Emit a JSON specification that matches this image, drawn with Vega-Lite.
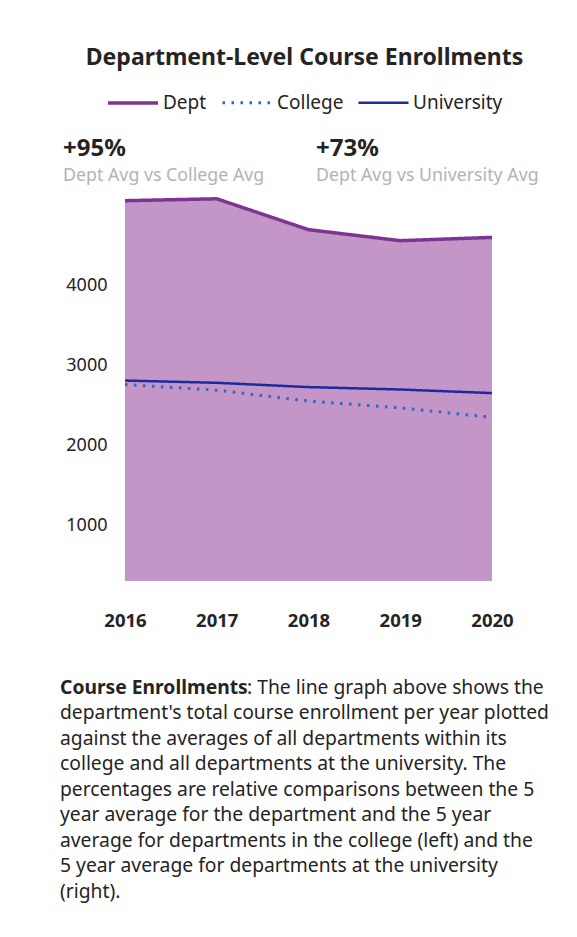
{
  "$schema": "https://vega.github.io/schema/vega-lite/v6.json",
  "background": "white",
  "padding": {"left": 60, "top": 47, "right": 20, "bottom": 10},
  "config": {
    "font": "Noto Sans",
    "view": {"stroke": null},
    "legend": {"layout": {"top": {"anchor": "middle"}}}
  },
  "title": {
    "text": "Department-Level Course Enrollments",
    "fontSize": 23,
    "fontWeight": "bold",
    "color": "#252423",
    "anchor": "middle",
    "offset": 6
  },
  "datasets": {
    "enroll": [
      {"year": 2016, "series": "College", "value": 2762},
      {"year": 2017, "series": "College", "value": 2692},
      {"year": 2018, "series": "College", "value": 2555},
      {"year": 2019, "series": "College", "value": 2470},
      {"year": 2020, "series": "College", "value": 2350},
      {"year": 2016, "series": "University", "value": 2812},
      {"year": 2017, "series": "University", "value": 2784},
      {"year": 2018, "series": "University", "value": 2730},
      {"year": 2019, "series": "University", "value": 2700},
      {"year": 2020, "series": "University", "value": 2655},
      {"year": 2016, "series": "Dept", "value": 5066},
      {"year": 2017, "series": "Dept", "value": 5090},
      {"year": 2018, "series": "Dept", "value": 4703},
      {"year": 2019, "series": "Dept", "value": 4565},
      {"year": 2020, "series": "Dept", "value": 4606}
    ],
    "kpi": [
      {"side": "left", "pct": "+95%", "label": "Dept Avg vs College Avg"},
      {"side": "right", "pct": "+73%", "label": "Dept Avg vs University Avg"}
    ],
    "body": [
      {
        "section": "body",
        "lead": "Course Enrollments",
        "first": ": The line graph above shows the",
        "rest": "department's total course enrollment per year plotted\nagainst the averages of all departments within its\ncollege and all departments at the university. The\npercentages are relative comparisons between the 5\nyear average for the department and the 5 year\naverage for departments in the college (left) and the\n5 year average for departments at the university\n(right)."
      }
    ]
  },
  "resolve": {"scale": {"x": "independent", "y": "independent"}},
  "spacing": 6,
  "vconcat": [
    {
      "width": 253,
      "height": 39,
      "data": {"name": "kpi"},
      "encoding": {
        "x": {"field": "side", "type": "nominal", "axis": null, "sort": null, "scale": {"type": "point", "padding": 0}}
      },
      "layer": [
        {
          "mark": {"type": "text", "align": "left", "baseline": "alphabetic", "fontSize": 24, "fontWeight": "bold", "color": "#252423", "dx": 3, "dy": 5.5},
          "encoding": {"text": {"field": "pct", "type": "nominal"}}
        },
        {
          "mark": {"type": "text", "align": "left", "baseline": "alphabetic", "fontSize": 17.8, "color": "#b3b3b3", "dx": 3, "dy": 30.5},
          "encoding": {"text": {"field": "label", "type": "nominal"}}
        }
      ]
    },
    {
      "width": 485,
      "height": 387,
      "data": {"name": "enroll"},
      "encoding": {
        "x": {
          "field": "year",
          "type": "quantitative",
          "scale": {"domain": [2015.2916, 2020.5777], "nice": false, "zero": false},
          "axis": {
            "values": [2016, 2017, 2018, 2019, 2020],
            "format": "d",
            "domain": false,
            "ticks": false,
            "grid": false,
            "labelFontSize": 18.5,
            "labelFontWeight": "bold",
            "labelColor": "#252423",
            "labelPadding": 30,
            "labelFlush": false,
            "title": null
          }
        },
        "y": {
          "field": "value",
          "type": "quantitative",
          "scale": {"domain": [300, 5150], "nice": false, "zero": false},
          "axis": {
            "values": [1000, 2000, 3000, 4000],
            "format": "d",
            "domain": false,
            "ticks": false,
            "grid": false,
            "labelFontSize": 18,
            "labelColor": "#252423",
            "offset": -47,
            "labelPadding": 0,
            "title": null
          }
        }
      },
      "layer": [
        {
          "transform": [{"filter": "datum.series === 'Dept'"}],
          "mark": {"type": "area", "color": "#c396c7", "opacity": 1},
          "encoding": {"y2": {"datum": 300}}
        },
        {
          "mark": {"type": "line", "strokeCap": "butt"},
          "encoding": {
            "color": {
              "field": "series",
              "type": "nominal",
              "scale": {"domain": ["Dept", "College", "University"], "range": ["#7e3492", "#2a66cc", "#1c2aa0"]},
              "legend": {
                "orient": "top",
                "title": null,
                "direction": "horizontal",
                "symbolType": "stroke",
                "symbolSize": 2500,
                "symbolStrokeWidth": 3,
                "labelFontSize": 19,
                "labelColor": "#252423",
                "labelOffset": 3,
                "columnPadding": 9
              }
            },
            "strokeDash": {
              "field": "series",
              "type": "nominal",
              "scale": {"domain": ["Dept", "College", "University"], "range": [[1, 0], [2.5, 6.5], [1, 0]]},
              "legend": {
                "orient": "top",
                "title": null,
                "direction": "horizontal",
                "symbolType": "stroke",
                "symbolSize": 2500,
                "symbolStrokeWidth": 3,
                "labelFontSize": 19,
                "labelColor": "#252423",
                "labelOffset": 3,
                "columnPadding": 9
              }
            },
            "strokeWidth": {
              "field": "series",
              "type": "nominal",
              "scale": {"domain": ["Dept", "College", "University"], "range": [3.5, 2.5, 3.5]},
              "legend": null
            }
          }
        }
      ]
    },
    {
      "width": 485,
      "height": 240,
      "data": {"name": "body"},
      "encoding": {
        "x": {"field": "section", "type": "nominal", "axis": null, "scale": {"type": "point", "padding": 0, "align": 0}},
        "y": {"field": "section", "type": "nominal", "axis": null, "scale": {"type": "point", "padding": 0, "align": 0}}
      },
      "layer": [
        {
          "mark": {"type": "text", "align": "left", "baseline": "top", "fontSize": 19.3, "fontWeight": "bold", "color": "#252423", "dy": 42.5},
          "encoding": {"text": {"field": "lead", "type": "nominal"}}
        },
        {
          "mark": {"type": "text", "align": "left", "baseline": "top", "fontSize": 19.3, "color": "#252423", "dx": 187, "dy": 42.5},
          "encoding": {"text": {"field": "first", "type": "nominal"}}
        },
        {
          "mark": {"type": "text", "align": "left", "baseline": "top", "fontSize": 19.3, "color": "#252423", "dy": 68, "lineBreak": "\n", "lineHeight": 25.5},
          "encoding": {"text": {"field": "rest", "type": "nominal"}}
        }
      ]
    }
  ]
}
